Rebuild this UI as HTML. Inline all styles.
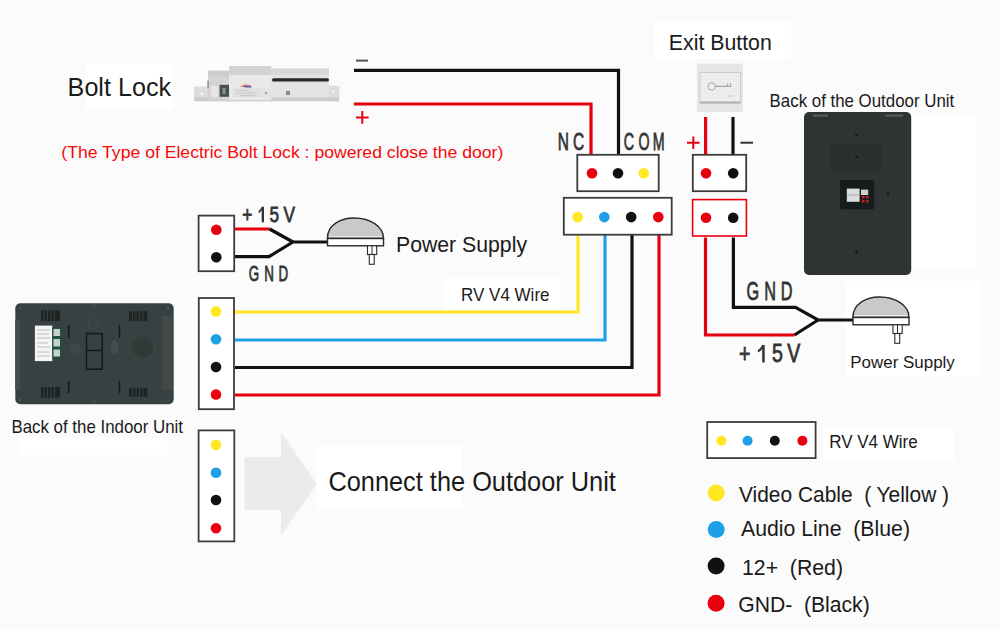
<!DOCTYPE html>
<html><head><meta charset="utf-8">
<style>
html,body{margin:0;padding:0;background:#fbfbfb;width:1000px;height:630px;overflow:hidden}
svg{display:block}
text{font-family:"Liberation Sans",sans-serif;white-space:pre}
</style></head><body>
<svg width="1000" height="630" viewBox="0 0 1000 630">
<defs>
<linearGradient id="metal" x1="0" y1="0" x2="0" y2="1">
<stop offset="0" stop-color="#f2f2f2"/><stop offset="1" stop-color="#d4d4d4"/>
</linearGradient>
</defs>
<rect x="0" y="0" width="1000" height="630" fill="#fbfbfb"/>

<!-- white text patches -->
<g fill="#ffffff">
<rect x="85.6" y="63.3" width="87.7" height="45.6"/>
<rect x="316.6" y="445.3" width="145.4" height="63"/>
<rect x="654.4" y="21.6" width="136.8" height="37.8"/>
<rect x="912" y="116.7" width="64.7" height="152.3"/>
<rect x="845.7" y="281" width="135.3" height="95"/>
<rect x="824" y="427" width="129.7" height="35"/>
<rect x="20" y="438" width="147" height="17"/>
<rect x="442.7" y="278" width="117" height="31"/>
</g>

<!-- ============ TEXTS ============ -->
<g fill="#1a1a1a">
<text x="67.6" y="95.6" font-size="26.7" textLength="103.5" lengthAdjust="spacingAndGlyphs">Bolt Lock</text>
<text x="668.8" y="50" font-size="22" textLength="103" lengthAdjust="spacingAndGlyphs">Exit Button</text>
<text x="769.6" y="107.1" font-size="17.9" textLength="184.6" lengthAdjust="spacingAndGlyphs">Back of the Outdoor Unit</text>
<text x="11.4" y="433.3" font-size="17.7" textLength="171.6" lengthAdjust="spacingAndGlyphs">Back of the Indoor Unit</text>
<text x="396" y="251.6" font-size="21.2" textLength="131" lengthAdjust="spacingAndGlyphs">Power Supply</text>
<text x="461" y="301.1" font-size="17.9" textLength="88.5" lengthAdjust="spacingAndGlyphs">RV V4 Wire</text>
<text x="328.4" y="490.5" font-size="27.4" textLength="287.5" lengthAdjust="spacingAndGlyphs">Connect the Outdoor Unit</text>
<text x="850.3" y="368.4" font-size="16.7" textLength="104.5" lengthAdjust="spacingAndGlyphs">Power Supply</text>
<text x="829.2" y="448.4" font-size="18.7" textLength="88.5" lengthAdjust="spacingAndGlyphs">RV V4 Wire</text>
<text x="739" y="501.5" font-size="21.5" textLength="210" lengthAdjust="spacingAndGlyphs">Video Cable  ( Yellow )</text>
<text x="741" y="536.1" font-size="21.5" textLength="169" lengthAdjust="spacingAndGlyphs">Audio Line  (Blue)</text>
<text x="742" y="574.7" font-size="21.5" textLength="101" lengthAdjust="spacingAndGlyphs">12+  (Red)</text>
<text x="738.2" y="611.9" font-size="21.5" textLength="131.5" lengthAdjust="spacingAndGlyphs">GND-  (Black)</text>
</g>
<text x="61.3" y="157.6" font-size="17.2" fill="#f5080a" textLength="442" lengthAdjust="spacingAndGlyphs">(The Type of Electric Bolt Lock : powered close the door)</text>

<!-- condensed labels -->
<g fill="#333">
<path d="M261.7 206.7H264V222.3H261.7V210.3Q260.5 212.3 258.6 213.3V211Q260.6 209.6 261.7 206.7Z"/>
<path d="M762.2 345H764.7V362.4H762.2V349Q760.8 351.3 757.9 352.4V349.9Q760.8 348.2 762.2 345Z"/>
</g>
<g>
<text transform="translate(0 150.40) scale(0.632 1)" x="882.57 906.85" y="0" font-size="24.49" fill="#333" stroke="#333" stroke-width="0.8">NC</text>
<text transform="translate(0 150.40) scale(0.581 1)" x="1073.79 1098.78 1123.46" y="0" font-size="24.49" fill="#333" stroke="#333" stroke-width="0.8">COM</text>
<text transform="translate(0 222.30) scale(0.764 1)" x="317.24 335.59 352.80 370.99" y="0" font-size="22.61" fill="#333" stroke="#333" stroke-width="0.8">+ 5V</text>
<text transform="translate(0 281.00) scale(0.619 1)" x="401.69 426.81 449.75" y="0" font-size="21.59" fill="#333" stroke="#333" stroke-width="0.8">GND</text>
<text transform="translate(0 299.90) scale(0.635 1)" x="1175.45 1203.55 1229.62" y="0" font-size="25.65" fill="#333" stroke="#333" stroke-width="0.8">GND</text>
<text transform="translate(0 362.40) scale(0.776 1)" x="952.42 974.60 994.97 1014.41" y="0" font-size="25.22" fill="#333" stroke="#333" stroke-width="0.8">+ 5V</text>

</g>

<!-- ============ WIRES ============ -->
<g fill="none" stroke-width="3.2" stroke-linejoin="miter">
<path d="M354 70.3H618.5V154" stroke="#111"/>
<path d="M354 104H591V154" stroke="#e8000f"/>
<path d="M578 235V312H235" stroke="#ffe722"/>
<path d="M605 235V340H235" stroke="#1ea0e6"/>
<path d="M632 235V367.5H235" stroke="#111"/>
<path d="M659 235V395H235" stroke="#e8000f"/>
<path d="M705.6 117V154" stroke="#e8000f"/>
<path d="M733 117V154" stroke="#111"/>
<path d="M705.5 237.5V335H794.5" stroke="#e8000f"/>
<path d="M794.5 335L818 320" stroke="#111"/>
<path d="M733.4 237.5V307.4H795.5L818 320H853" stroke="#111"/>
<path d="M235 229H269.5" stroke="#e8000f"/>
<path d="M269.5 229L293 242" stroke="#111"/>
<path d="M235 256.6H269L293 242H328" stroke="#111"/>
</g>
<!-- signs -->
<g stroke-width="2" fill="none">
<path d="M356 60.6H368" stroke="#555"/>
<path d="M356 117.4H368.6M362.3 111V123.8" stroke="#e8000f"/>
<path d="M687 142.7H699.6M693.3 136.4V149" stroke="#e8000f"/>
<path d="M740.4 142.7H753" stroke="#333"/>
</g>

<!-- ============ CONNECTOR BOXES ============ -->
<g fill="#ffffff" stroke="#3c3c3c" stroke-width="1.8">
<rect x="577.3" y="154.8" width="81.4" height="36.4"/>
<rect x="563.8" y="197.8" width="107.9" height="36.9"/>
<rect x="692.8" y="154.8" width="53.4" height="36.4"/>
<rect x="198.6" y="215.6" width="35.6" height="55.6"/>
<rect x="198.8" y="298.0" width="35.2" height="111.2"/>
<rect x="198.6" y="430.4" width="35.7" height="111.0"/>
<rect x="707.2" y="422.0" width="108.4" height="36.1"/>
</g>
<rect x="692.6" y="199.6" width="53.8" height="36.4" fill="#ffffff" stroke="#e8000f" stroke-width="1.6"/>

<!-- dots -->
<g>
<circle cx="592" cy="173.2" r="5.3" fill="#e8000f"/>
<circle cx="618" cy="173.2" r="5.3" fill="#111"/>
<circle cx="643.7" cy="173.2" r="5.3" fill="#ffe722"/>
<circle cx="577.7" cy="217.1" r="5.3" fill="#ffe722"/>
<circle cx="604.3" cy="217.1" r="5.3" fill="#1ea0e6"/>
<circle cx="631.2" cy="217.1" r="5.3" fill="#111"/>
<circle cx="658.3" cy="217.1" r="5.3" fill="#e8000f"/>
<circle cx="706" cy="173.2" r="5.3" fill="#e8000f"/>
<circle cx="733.2" cy="173.2" r="5.3" fill="#111"/>
<circle cx="706" cy="217.8" r="5.3" fill="#e8000f"/>
<circle cx="733.2" cy="217.8" r="5.3" fill="#111"/>
<circle cx="216.3" cy="229.8" r="5.3" fill="#e8000f"/>
<circle cx="216.3" cy="257.3" r="5.3" fill="#111"/>
<circle cx="216" cy="311.5" r="5.3" fill="#ffe722"/>
<circle cx="216" cy="339.3" r="5.3" fill="#1ea0e6"/>
<circle cx="216" cy="367" r="5.3" fill="#111"/>
<circle cx="216" cy="394.5" r="5.3" fill="#e8000f"/>
<circle cx="216" cy="444.9" r="5.3" fill="#ffe722"/>
<circle cx="216" cy="472.7" r="5.3" fill="#1ea0e6"/>
<circle cx="216" cy="500" r="5.3" fill="#111"/>
<circle cx="216" cy="528.2" r="5.3" fill="#e8000f"/>
<circle cx="721.4" cy="440.7" r="5" fill="#ffe722"/>
<circle cx="747.6" cy="440.7" r="5" fill="#1ea0e6"/>
<circle cx="774.8" cy="440.7" r="5" fill="#111"/>
<circle cx="802.4" cy="440.7" r="5" fill="#e8000f"/>
<circle cx="716.2" cy="493" r="8.5" fill="#ffe722"/>
<circle cx="716.2" cy="529.6" r="8.5" fill="#1ea0e6"/>
<circle cx="716.1" cy="566.1" r="8.5" fill="#111"/>
<circle cx="716.1" cy="603.3" r="8.5" fill="#e8000f"/>
</g>

<!-- arrow -->
<path d="M244.4 457.3H281V432.2L316.7 484L281 535.5V510H244.4Z" fill="#ebebeb"/>

<!-- ===== BOLT LOCK ===== -->
<g id="bolt">
<path d="M194 86.4H329V85.5L339.5 86L339.5 101.5H194Z" fill="#dcdcdc"/>
<rect x="194" y="97.4" width="145" height="3.5" fill="#cbcbcb"/>
<circle cx="202" cy="94" r="1.3" fill="#f8f8f8"/>
<circle cx="333" cy="91.5" r="1.3" fill="#f8f8f8"/>
<rect x="208" y="70.8" width="21.2" height="29.2" fill="#d6d4d2"/>
<rect x="208" y="70.8" width="21.2" height="6" fill="#cfcdcb"/>
<rect x="219.6" y="84.8" width="9.5" height="12" fill="#46504e"/>
<rect x="222.5" y="88" width="3" height="6" fill="#8a9090"/>
<rect x="207.2" y="80.5" width="1.8" height="8" fill="#9a9a9a"/>
<rect x="211" y="86" width="7" height="11" fill="#e6e6e6"/>
<rect x="229.2" y="66" width="42" height="34" fill="#e9e9e9"/>
<rect x="229.2" y="66" width="42" height="9" fill="#d2d2d2"/>
<path d="M240.5 86.5L245 84.5L251 85.5V87H240.5Z" fill="#e06060"/>
<rect x="244.5" y="86" width="7" height="1.6" fill="#6070b0"/>
<rect x="233" y="88" width="30" height="9" fill="#e0e0e0"/>
<path d="M235 90.5H250M236 93H258M240 95.5H256" stroke="#c4c4c4" stroke-width="0.8"/>
<rect x="271" y="68.5" width="58" height="20.5" fill="#e3e3e3"/>
<rect x="271" y="68.5" width="58" height="6" fill="#d8d8d8"/>
<rect x="272" y="78.2" width="57" height="3.2" rx="1.5" fill="#262a2a"/>
<rect x="262" y="89" width="67" height="8.4" fill="#e4e4e4"/>
<circle cx="266" cy="93" r="1.3" fill="#aaa"/>
<rect x="286" y="91" width="4" height="4" fill="#888"/>
</g>

<!-- ===== EXIT BUTTON ===== -->
<g id="exitbtn">
<rect x="696.9" y="63.6" width="46" height="48.5" fill="#e5e5e5"/>
<rect x="700" y="72.6" width="40.5" height="30.5" fill="#ededed" stroke="#c4c4c4" stroke-width="0.8"/>
<rect x="700" y="101.4" width="40.5" height="2" fill="#b2b2b2"/>
<circle cx="711.7" cy="86.4" r="3.6" fill="none" stroke="#a8a8a8" stroke-width="1.1"/>
<path d="M715.3 86.4H731.5M727.5 86.4V83.5M730.5 86.4V83" stroke="#a8a8a8" stroke-width="1.1" fill="none"/>
<path d="M728 96H734" stroke="#c8c8c8" stroke-width="1"/>
</g>

<!-- ===== INDOOR UNIT ===== -->
<g id="indoor">
<rect x="15.3" y="303.3" width="158.4" height="101" rx="5" fill="#384141"/>
<rect x="15.3" y="320" width="5" height="70" fill="#434b4b"/>
<rect x="162" y="316" width="11" height="74" fill="#414949"/>
<rect x="34.9" y="325.6" width="17.4" height="35.5" fill="#f4f4f4"/>
<g stroke="#bbb" stroke-width="0.95"><path d="M37 330H50M37 334H49M37 338H50M37 343H48M37 347H50M37 352H49M37 356H50"/></g>
<rect x="52.3" y="327.3" width="9.3" height="31.2" fill="#1f5040"/>
<rect x="53.5" y="329" width="6.5" height="7" fill="#c9cfcf"/>
<rect x="53.5" y="339" width="6.5" height="7.5" fill="#c9cfcf"/>
<rect x="53.5" y="349.5" width="6.5" height="7" fill="#c9cfcf"/>
<g fill="#1e2323">
<rect x="41" y="310.5" width="19" height="10.6"/>
<rect x="41" y="387" width="19" height="10.6"/>
<rect x="129" y="311.3" width="18.3" height="9.8"/>
<rect x="129" y="387.9" width="18.3" height="8.9"/>
</g>
<g stroke="#394141" stroke-width="0.95">
<path d="M44 310.5V321M47.5 310.5V321M51 310.5V321M54.5 310.5V321M44 387V397.6M47.5 387V397.6M51 387V397.6M54.5 387V397.6"/>
<path d="M132.5 311.3V321M136 311.3V321M139.5 311.3V321M143 311.3V321M132.5 387.9V396.8M136 387.9V396.8M139.5 387.9V396.8M143 387.9V396.8"/>
</g>
<g stroke="#151919" stroke-width="1.6">
<path d="M68.7 325V338M68.7 381V393M119.5 325V338M119.5 381V393"/>
</g>
<circle cx="75" cy="349.6" r="6" fill="#3e4646"/>
<ellipse cx="114.7" cy="347" rx="4" ry="7" fill="#444c4c"/>
<rect x="86.5" y="333.6" width="15.7" height="35.6" fill="none" stroke="#151818" stroke-width="1.5"/>
<path d="M86.5 350.5H102.2" stroke="#151818" stroke-width="1.5"/>
<ellipse cx="93" cy="323" rx="5" ry="6" fill="none" stroke="#414949" stroke-width="1"/>
<circle cx="142.3" cy="347" r="13.3" fill="#353d3d" stroke="#434b4b" stroke-width="1"/>
<circle cx="143" cy="347" r="9" fill="#313838"/>
<g fill="#555">
<circle cx="20" cy="308" r="1.2"/><circle cx="20" cy="400" r="1.2"/>
<circle cx="168" cy="308" r="1.2"/><circle cx="168" cy="400" r="1.2"/>
<circle cx="94" cy="305.5" r="1"/><circle cx="94" cy="401.5" r="1"/>
</g>
</g>

<!-- ===== OUTDOOR UNIT ===== -->
<g id="outdoor">
<rect x="804" y="112.1" width="107.2" height="162.8" rx="5" fill="#2e3434"/>
<rect x="813" y="114.5" width="15" height="2.2" fill="#545a5a"/>
<rect x="885.3" y="114.5" width="17.7" height="2.2" fill="#545a5a"/>
<rect x="830.7" y="143.5" width="51.8" height="27.2" fill="#2a3030"/>
<g fill="#151717">
<circle cx="856.6" cy="135.3" r="1.4"/><circle cx="856.6" cy="157" r="1.4"/>
<circle cx="888" cy="193.9" r="1.4"/><circle cx="856.6" cy="252.5" r="1.4"/>
</g>
<circle cx="826.6" cy="193.9" r="1.4" fill="#5a2a2a"/>
<rect x="840" y="180" width="34.3" height="29.3" rx="2" fill="#161b1b"/>
<rect x="846.8" y="188.6" width="12.8" height="13.2" fill="#dcdcdc"/>
<rect x="847" y="194.5" width="12.5" height="1" fill="#aaaaaa"/>
<rect x="861" y="189.6" width="7.2" height="5.4" fill="#cfcfcf"/>
<g fill="#d02020"><rect x="862" y="196" width="2.5" height="2.5"/><rect x="866" y="196" width="2.5" height="2.5"/><rect x="862" y="200" width="2.5" height="2.5"/><rect x="866" y="200" width="2.5" height="2.5"/></g>
</g>

<!-- ===== ADAPTERS ===== -->
<g id="adapterL">
<path d="M327.5 238.5C327 225 341 218 354 218C371 218 383.5 227 383.5 238.5Z" fill="#c9c9c9" stroke="#2a2a2a" stroke-width="1.4"/>
<path d="M329 236.5H382" stroke="#ececec" stroke-width="1"/>
<rect x="327.5" y="238.5" width="56" height="7.3" fill="#ffffff" stroke="#2a2a2a" stroke-width="1.4"/>
<rect x="367.5" y="245.8" width="9.2" height="8.7" fill="#ffffff" stroke="#2a2a2a" stroke-width="1.1"/>
<path d="M372 245.8V254.5" stroke="#2a2a2a" stroke-width="1"/>
<rect x="369.3" y="254.5" width="4.9" height="9.8" fill="#ffffff" stroke="#2a2a2a" stroke-width="1.1"/>
</g>
<g transform="translate(525.5 79)">
<path d="M327.5 238.5C327 225 341 218 354 218C371 218 383.5 227 383.5 238.5Z" fill="#c9c9c9" stroke="#2a2a2a" stroke-width="1.4"/>
<path d="M329 236.5H382" stroke="#ececec" stroke-width="1"/>
<rect x="327.5" y="238.5" width="56" height="7.3" fill="#ffffff" stroke="#2a2a2a" stroke-width="1.4"/>
<rect x="367.5" y="245.8" width="9.2" height="8.7" fill="#ffffff" stroke="#2a2a2a" stroke-width="1.1"/>
<path d="M372 245.8V254.5" stroke="#2a2a2a" stroke-width="1"/>
<rect x="369.3" y="254.5" width="4.9" height="9.8" fill="#ffffff" stroke="#2a2a2a" stroke-width="1.1"/>
</g>
</svg>
</body></html>
